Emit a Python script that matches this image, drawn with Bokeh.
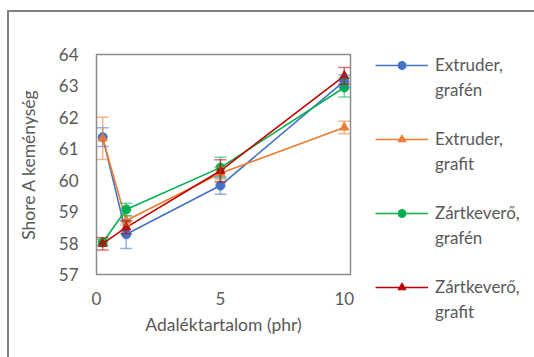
from bokeh.plotting import figure
from bokeh.layouts import row
from bokeh.models import (ColumnDataSource, Whisker, TeeHead, Legend, LegendItem,
                          FixedTicker, Range1d)
from bokeh.embed import file_html
from bokeh.resources import INLINE

# ---- data ----
x_vals = [0.25, 1.2, 5, 10]
series_first = ["Extruder,", "Extruder,", "Zártkeverő,", "Zártkeverő,"]
series_second = ["grafén", "grafit", "grafén", "grafit"]
ext_grafen = [61.37, 58.28, 59.83, 63.15]
ext_grafen_err = [0.30, 0.45, 0.28, 0.20]
ext_grafit = [61.33, 58.72, 60.22, 61.68]
ext_grafit_err = [0.67, 0.15, 0.20, 0.20]
zart_grafen = [58.02, 59.07, 60.40, 62.95]
zart_grafen_err = [0.10, 0.20, 0.33, 0.30]
zart_grafit = [57.98, 58.50, 60.30, 63.32]
zart_grafit_err = [0.20, 0.20, 0.35, 0.27]
x_ticks = [0, 5, 10]
y_ticks = [57, 58, 59, 60, 61, 62, 63, 64]

colors = ["#4472C4", "#ED7D31", "#00B050", "#C00000"]
markers = ["circle", "triangle", "circle", "triangle"]
values = [ext_grafen, ext_grafit, zart_grafen, zart_grafit]
errors = [ext_grafen_err, ext_grafit_err, zart_grafen_err, zart_grafit_err]

FONT = "Lato"
TXT = "#595959"

p = figure(width=351, height=345, output_backend="svg", toolbar_location=None,
           x_range=Range1d(0, 10.25), y_range=Range1d(57, 64),
           min_border_left=87, min_border_right=10, min_border_top=42, min_border_bottom=83)
p.background_fill_color = "white"
p.border_fill_color = "white"
p.outline_line_color = "#8c8c8c"
p.outline_line_width = 1.5
p.xgrid.visible = False
p.ygrid.visible = False

for ax in (p.xaxis[0], p.yaxis[0]):
    ax.axis_line_color = None
    ax.major_tick_line_color = None
    ax.minor_tick_line_color = None
    ax.major_tick_in = 0
    ax.major_tick_out = 0
    ax.major_label_text_font = FONT
    ax.major_label_text_font_size = "17px"
    ax.major_label_text_color = TXT
    ax.axis_label_text_font = FONT
    ax.axis_label_text_font_size = "17.5px"
    ax.axis_label_text_color = TXT
    ax.axis_label_text_font_style = "normal"

p.xaxis.ticker = FixedTicker(ticks=x_ticks)
p.yaxis.ticker = FixedTicker(ticks=y_ticks)
p.xaxis.axis_label = "Adaléktartalom (phr)"
p.yaxis.axis_label = "Shore A keménység"
p.xaxis.major_label_standoff = 17
p.xaxis.axis_label_standoff = 6
p.yaxis.major_label_standoff = 18
p.yaxis.axis_label_standoff = 17

# legend panel (separate figure so the legend is not clipped)
lg = figure(width=174, height=345, output_backend="svg", toolbar_location=None,
            x_range=Range1d(0, 1), y_range=Range1d(0, 1),
            x_axis_type=None, y_axis_type=None,
            min_border_left=0, min_border_right=0, min_border_top=0, min_border_bottom=0)
lg.outline_line_color = None
lg.xgrid.visible = False
lg.ygrid.visible = False
lg.background_fill_color = "white"
lg.border_fill_color = "white"

# keep the legend panel's frame independent of the chart's frame
if hasattr(lg, "frame_align"):
    p.frame_align = False
    lg.frame_align = False
    loc_a, loc_b = (15, 60), (15, 35)
else:
    loc_a, loc_b = (15, -28), (15, -53)

items_first = []
items_second = []
for first, second, col, mk, vals, errs in zip(series_first, series_second, colors,
                                              markers, values, errors):
    src = ColumnDataSource(dict(x=x_vals, y=vals,
                                lo=[v - e for v, e in zip(vals, errs)],
                                hi=[v + e for v, e in zip(vals, errs)]))
    w = Whisker(base="x", upper="hi", lower="lo", source=src, line_color=col,
                line_alpha=0.55, line_width=1.5,
                upper_head=TeeHead(size=12, line_color=col, line_alpha=0.55, line_width=1.5),
                lower_head=TeeHead(size=12, line_color=col, line_alpha=0.55, line_width=1.5))
    w.level = "glyph"
    p.add_layout(w)
    p.line("x", "y", source=src, line_color=col, line_width=1.6)
    p.scatter("x", "y", source=src, marker=mk, size=9, fill_color=col, line_color=col)
    # legend proxies in the legend panel (their points fall outside its ranges)
    lr = lg.line("x", "y", source=src, line_color=col, line_width=1.6)
    mr = lg.scatter("x", "y", source=src, marker=mk, size=9, fill_color=col, line_color=col)
    inv = lg.line("x", "y", source=src, line_alpha=0)
    items_first.append(LegendItem(label=first, renderers=[lr, mr]))
    items_second.append(LegendItem(label=second, renderers=[inv]))

common = dict(glyph_width=53, glyph_height=20, label_height=20, spacing=53,
              padding=0, margin=0, label_standoff=7,
              border_line_color=None, background_fill_alpha=0,
              label_text_font=FONT, label_text_font_size="17px", label_text_color=TXT)
legend_a = Legend(items=items_first, location=loc_a, **common)
legend_b = Legend(items=items_second, location=loc_b, **common)
lg.add_layout(legend_a)
lg.add_layout(legend_b)

layout = row(p, lg, margin=(10, 0, 0, 7),
             styles={"border-top": "2px solid #7f7f7f", "border-left": "2px solid #7f7f7f"})

open("out.html", "w").write(file_html(layout, INLINE))
